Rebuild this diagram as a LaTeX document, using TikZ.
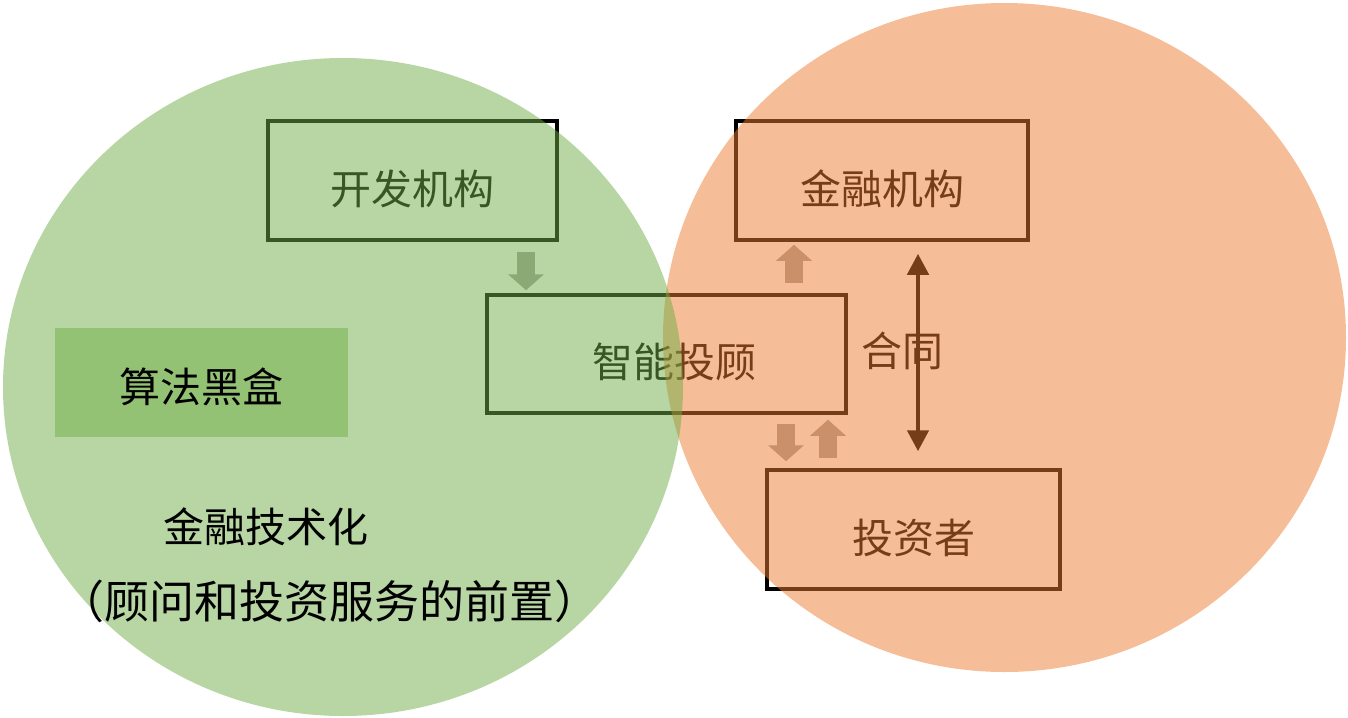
\documentclass[tikz,border=0pt]{standalone}
\usepackage{fontspec}
\setmainfont{Noto Sans CJK SC}
\usetikzlibrary{arrows.meta}
\definecolor{gfill}{HTML}{70AD47}
\definecolor{ofill}{HTML}{ED7D31}
\definecolor{agray}{HTML}{A5A5A5}
\definecolor{algofill}{RGB}{148,194,117}
\newcommand\cjkA{\fontsize{41pt}{49pt}\selectfont}
\newcommand\cjkB{\fontsize{45pt}{54pt}\selectfont}
\begin{document}
\begin{tikzpicture}[x=1pt,y=-1pt,
  box/.style={draw=black, line width=3.5pt, inner sep=0pt, text height=47pt, text depth=0pt, font=\cjkA},
  algobox/.style={fill=algofill, inner sep=0pt, text height=40pt, text depth=0pt, font=\cjkA},
  lbl/.style={inner sep=0pt, text height=31pt, text depth=0pt, font=\cjkA},
  lblB/.style={inner sep=0pt, text height=34pt, text depth=0pt, font=\cjkB},
  blockarr/.style={draw=agray, line width=18pt, -{Triangle[width=35pt,length=16pt]}},
  dblarr/.style={draw=black, line width=4.5pt, {Triangle[width=21pt,length=21pt]}-{Triangle[width=21pt,length=21pt]}},
  blob/.style={fill opacity=0.5}
]
\useasboundingbox (0,0) rectangle (1348,717);

% boxes (below the translucent circles)
\node[box, minimum width=289pt, minimum height=119pt] (dev) at (412.5,180.5) {开发机构};
\node[box, minimum width=292pt, minimum height=119pt] (fin) at (882,180.5) {金融机构};
\node[box, minimum width=359pt, minimum height=118pt] (ai)  at (666.5,354) {\hspace*{15pt}智能投顾};
\node[box, minimum width=293pt, minimum height=119pt] (inv) at (913.5,529.5) {投资者};

% helper x positions for the block arrows
\coordinate (xa) at (526,0);
\coordinate (xb) at (794,0);
\coordinate (xc) at (786,0);
\coordinate (xd) at (828,0);
\coordinate (xe) at (918,0);

\draw[blockarr, shorten <=10pt, shorten >=3pt] (dev.south -| xa) -- (ai.north -| xa);
\draw[blockarr, shorten <=10pt, shorten >=3pt] (ai.north -| xb) -- (fin.south -| xb);
\draw[blockarr, shorten <=9pt, shorten >=7pt] (ai.south -| xc) -- (inv.north -| xc);
\draw[blockarr, shorten <=10pt, shorten >=5pt] (inv.north -| xd) -- (ai.south -| xd);

\draw[dblarr, shorten <=12pt, shorten >=17pt] (fin.south -| xe) -- (inv.north -| xe);
\node[lbl] (contract) at (902,351) {合同};

% translucent circles
\fill[ofill, blob] (1004.5,337.5) ellipse [x radius=341.5, y radius=334.5];
\fill[gfill, blob] (343,387) ellipse [x radius=340, y radius=329];

% items on top
\node[algobox, minimum width=293pt, minimum height=109pt] (algo) at (201.5,382.5) {算法黑盒};
\node[lbl] (t1) at (266,527) {金融技术化};
\node[lblB] (t2) at (329,601) {（顾问和投资服务的前置）};
\end{tikzpicture}
\end{document}
